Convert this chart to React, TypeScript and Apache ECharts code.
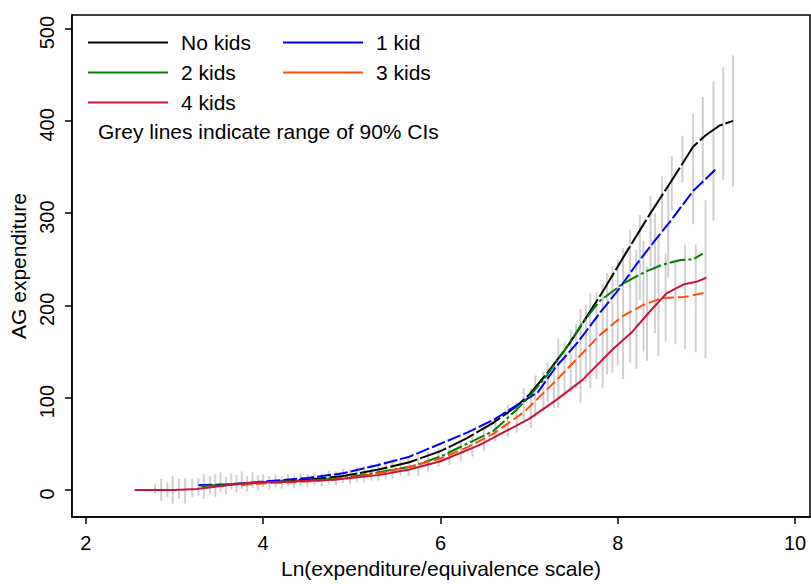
import { useEffect, useRef } from "react";
import * as echarts from "echarts";

const FONT = "Liberation Sans";

// curves: x = ln(expenditure / equivalence scale), y = AG expenditure
const noKidsX = [3.7, 4.0, 4.5, 4.9, 5.3, 5.65, 6.0, 6.3, 6.6, 6.85, 7.0, 7.2, 7.45, 7.6, 7.85, 8.1, 8.35, 8.6, 8.85, 9.0, 9.15, 9.3];
const noKidsY = [6, 8, 11, 15, 22, 30, 42, 56, 73, 90, 103, 126, 158, 180, 218, 258, 297, 334, 372, 385, 395, 400];

const oneKidX = [3.27, 3.6, 4.0, 4.5, 4.9, 5.3, 5.65, 6.0, 6.3, 6.6, 6.85, 7.1, 7.3, 7.55, 7.8, 8.0, 8.2, 8.4, 8.6, 8.85, 9.1];
const oneKidY = [5, 6, 9, 13, 18, 27, 36, 50, 62, 76, 91, 106, 133, 160, 192, 216, 243, 268, 292, 324, 347];

const twoKidsX = [3.3, 3.6, 4.0, 4.5, 4.9, 5.3, 5.7, 6.0, 6.3, 6.6, 6.85, 7.0, 7.2, 7.45, 7.6, 7.8, 8.05, 8.3, 8.5, 8.7, 8.85, 8.96];
const twoKidsY = [4, 6, 8, 10, 13, 19, 26, 36, 50, 64, 86, 101, 124, 158, 181, 205, 223, 236, 244, 249, 250, 256];

const threeKidsX = [3.75, 4.0, 4.5, 4.9, 5.3, 5.65, 6.0, 6.3, 6.6, 6.95, 7.3, 7.6, 7.8, 8.05, 8.3, 8.5, 8.75, 9.0];
const threeKidsY = [5, 7, 9, 12, 18, 25, 34, 46, 61, 85, 118, 148, 168, 188, 201, 208, 209, 214];

const fourKidsX = [2.55, 3.0, 3.25, 3.6, 3.9, 4.3, 4.8, 5.3, 5.65, 6.0, 6.45, 7.0, 7.3, 7.6, 7.95, 8.15, 8.35, 8.55, 8.75, 8.9, 9.0];
const fourKidsY = [0, 0, 1, 5, 8, 9, 11, 16, 22, 31, 49, 77, 97, 119, 153, 170, 192, 213, 223, 226, 230];

// grey 90% confidence interval ranges
const ciX = [
  2.78, 2.85, 2.92, 2.98, 3.05, 3.12, 3.2, 3.27, 3.33, 3.4, 3.46, 3.52, 3.58, 3.64, 3.7, 3.76, 3.82, 3.88, 3.94, 4.0,
  4.07, 4.14, 4.21, 4.28, 4.35, 4.42, 4.5, 4.58, 4.66, 4.74, 4.82, 4.9, 4.98, 5.06, 5.14, 5.22, 5.3, 5.38, 5.46, 5.55,
  5.64, 5.75, 5.86, 5.98, 6.1, 6.23, 6.36, 6.49, 6.62, 6.76, 6.86,
  6.94, 7.02, 7.07, 7.16, 7.21, 7.28, 7.33, 7.4, 7.47, 7.53, 7.58, 7.64, 7.69, 7.76, 7.83, 7.88, 7.94, 8.0, 8.06, 8.14,
  8.21, 8.25, 8.29, 8.33, 8.37, 8.42, 8.46, 8.5, 8.54, 8.57, 8.61, 8.65, 8.73, 8.76, 8.85, 8.88, 8.96, 8.99, 9.08, 9.19, 9.3,
];
const ciLow = [
  -4, -12, -8, -15, -10, -15, -8, -6, -10, -5, -8, -2, -5, 0, -3, 1, -2, 2, 0, 3,
  1, 3, 1, 4, 2, 4, 3, 5, 4, 6, 5, 7, 6, 8, 8, 10, 10, 12, 12, 15,
  15, 15, 20, 25, 27, 31, 36, 42, 52, 57, 62,
  74, 67, 78, 85, 95, 89, 89, 100, 106, 110, 95, 117, 110, 120, 110, 125, 127, 135, 120, 138,
  131, 206, 150, 140, 242, 170, 145, 282, 161, 230, 303, 158, 333, 153, 288, 149, 330, 143, 292, 336, 329,
];
const ciHigh = [
  6, 12, 8, 15, 12, 13, 12, 13, 17, 15, 17, 19, 14, 18, 16, 20, 15, 19, 16, 17,
  15, 17, 15, 17, 16, 18, 17, 19, 18, 21, 20, 23, 22, 25, 26, 28, 30, 31, 33, 35,
  36, 38, 41, 45, 48, 53, 60, 68, 78, 92, 95,
  110, 110, 124, 128, 138, 138, 164, 160, 174, 180, 196, 200, 213, 215, 224, 235, 242, 250, 262, 282,
  260, 298, 270, 242, 319, 300, 274, 340, 256, 330, 362, 250, 384, 266, 408, 266, 426, 314, 443, 458, 471,
];

const xTicks = [2, 4, 6, 8, 10];
const yTicks = [0, 100, 200, 300, 400, 500];

const pairs = (xs: number[], ys: number[]) => xs.map((x, i) => [x, ys[i]]);

const seriesDefs = [
  { name: "No kids", xs: noKidsX, ys: noKidsY, color: "#000000", dash: [28, 3] },
  { name: "1 kid", xs: oneKidX, ys: oneKidY, color: "#0000ff", dash: [14, 3] },
  { name: "2 kids", xs: twoKidsX, ys: twoKidsY, color: "#008000", dash: [16, 3, 3, 3] },
  { name: "3 kids", xs: threeKidsX, ys: threeKidsY, color: "#ff4d0d", dash: [11, 4] },
  { name: "4 kids", xs: fourKidsX, ys: fourKidsY, color: "#c8143c", dash: "solid" as const },
];

export default function App() {
  const chartRef = useRef<HTMLDivElement | null>(null);

  useEffect(() => {
    if (!chartRef.current) {
      return;
    }

    const chart = echarts.init(chartRef.current, null, { renderer: "svg" });

    // plain line swatch, no marker
    const legendCommon = {
      orient: "vertical" as const,
      top: 32,
      padding: 0,
      icon: "path://M0,0H80V2H0Z",
      itemWidth: 80,
      itemHeight: 14,
      itemGap: 9,
      textStyle: {
        fontFamily: FONT,
        fontSize: 21,
        color: "#000",
        padding: [0, 0, 0, 8],
      },
    };

    const axisLineStyle = { color: "#000", width: 1.5 };

    chart.setOption({
      animation: false,
      backgroundColor: "#ffffff",
      textStyle: { fontFamily: FONT },
      grid: {
        left: 70,
        right: 1,
        top: 15,
        bottom: 60,
        show: true,
        borderColor: "#000",
        borderWidth: 1.5,
      },
      legend: [
        { ...legendCommon, left: 88, data: ["No kids", "2 kids", "4 kids"] },
        { ...legendCommon, left: 283, data: ["1 kid", "3 kids"] },
      ],
      graphic: [
        {
          type: "text",
          left: 98,
          top: 121,
          style: {
            text: "Grey lines indicate range of 90% CIs",
            fontFamily: FONT,
            fontSize: 21,
            fill: "#000",
          },
        },
      ],
      xAxis: {
        type: "value",
        min: 1.8425,
        max: 10.169,
        name: "Ln(expenditure/equivalence scale)",
        nameLocation: "middle",
        nameGap: 41,
        nameTextStyle: { fontFamily: FONT, fontSize: 21, color: "#000" },
        axisLine: { show: true, onZero: false, lineStyle: axisLineStyle },
        axisTick: {
          show: true,
          length: 7,
          customValues: xTicks,
          lineStyle: axisLineStyle,
        },
        axisLabel: {
          customValues: xTicks,
          margin: 16,
          fontFamily: FONT,
          fontSize: 20,
          color: "#000",
        },
        splitLine: { show: false },
      },
      yAxis: {
        type: "value",
        min: -29.4,
        max: 514.8,
        name: "AG expenditure",
        nameLocation: "middle",
        nameGap: 40,
        nameTextStyle: { fontFamily: FONT, fontSize: 21, color: "#000" },
        axisLine: { show: true, onZero: false, lineStyle: axisLineStyle },
        axisTick: {
          show: true,
          length: 7,
          customValues: yTicks,
          lineStyle: axisLineStyle,
        },
        axisLabel: {
          customValues: yTicks,
          rotate: 90,
          margin: 15,
          padding: [0, 8, 0, 0],
          fontFamily: FONT,
          fontSize: 20,
          color: "#000",
        },
        splitLine: { show: false },
      },
      series: [
        {
          type: "custom",
          name: "CI",
          silent: true,
          z: 1,
          encode: { x: 0, y: [1, 2] },
          data: ciX.map((x, i) => [x, ciLow[i], ciHigh[i]]),
          renderItem: (_params: unknown, api: any) => {
            const lo = api.coord([api.value(0), api.value(1)]);
            const hi = api.coord([api.value(0), api.value(2)]);
            return {
              type: "line",
              shape: { x1: lo[0], y1: lo[1], x2: hi[0], y2: hi[1] },
              style: { stroke: "#d0d0d0", lineWidth: 2 },
            };
          },
        },
        ...seriesDefs.map((s) => ({
          type: "line",
          name: s.name,
          symbol: "none",
          z: 3,
          color: s.color,
          lineStyle: { color: s.color, width: 2, type: s.dash },
          data: pairs(s.xs, s.ys),
        })),
      ],
    });

    return () => {
      chart.dispose();
    };
  }, []);

  return (
    <div
      ref={chartRef}
      style={{ position: "absolute", left: 0, top: 0, width: 811, height: 584 }}
    />
  );
}
